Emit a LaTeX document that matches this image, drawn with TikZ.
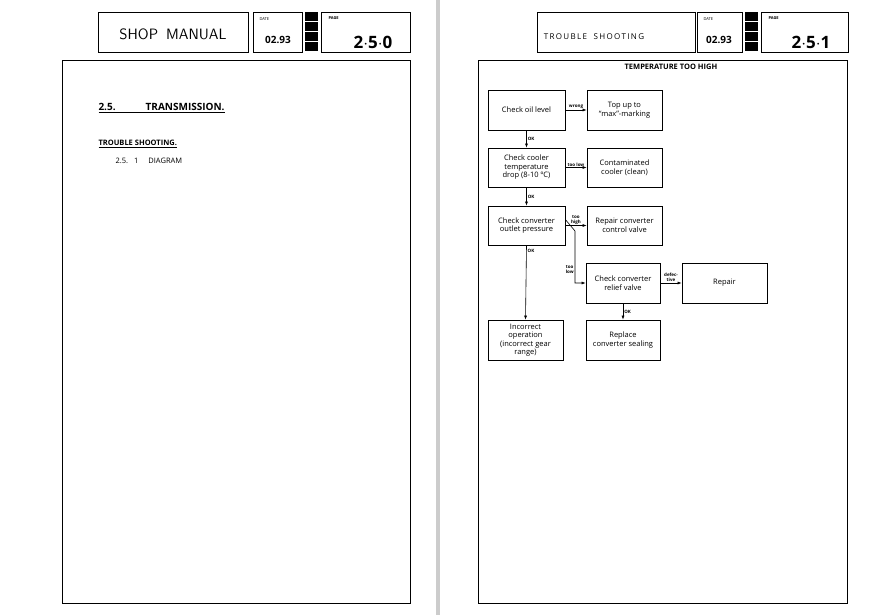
\documentclass[tikz,border=0pt]{standalone}
\usepackage{fontspec}
\setmainfont{Open Sans}
\usetikzlibrary{arrows.meta}
\begin{document}
\begin{tikzpicture}[x=1pt,y=-1pt,
  box/.style={draw,line width=0.7pt,align=center,font=\fontsize{7.5}{8.5}\selectfont},
  arr/.style={-{Latex[length=4pt,width=3pt]},line width=0.6pt},
  lab/.style={font=\fontsize{4.5}{5}\selectfont\bfseries,inner sep=1pt,align=center},
  frame/.style={draw,line width=0.8pt},
  blk/.style={fill=black,draw=white,line width=0.6pt}]
\useasboundingbox (0,0) rectangle (875,615);
\fill[white] (0,0) rectangle (875,615);
\fill[gray!40] (436,0) rectangle (440,615);
% left page
\draw[frame] (62,60) rectangle (410,603);
\node[frame,minimum width=150pt,minimum height=40pt] (sm) at (173,32) {};
\node[font=\fontsize{15}{15}\selectfont] (smt) at (173,34) {\textsf{SHOP\hspace{8pt}MANUAL}};
\node[frame,minimum width=49pt,minimum height=40pt] (d1) at (277.5,32) {};
\node[font=\fontsize{4}{4}\selectfont,anchor=west] (d1l) at (256,19) {DATE};
\node[font=\fontsize{10}{10}\selectfont\bfseries] (d1v) at (278,40) {02.93};
\foreach \i in {0,1,2,3} {\fill[black] (305,12+\i*10) rectangle (318,21+\i*10);}
\node[frame,minimum width=89pt,minimum height=40pt] (p1) at (365.5,32) {};
\node[font=\fontsize{4}{4}\selectfont\bfseries,anchor=west] (p1l) at (325,18) {PAGE};
\node[font=\fontsize{17}{17}\selectfont\bfseries] (p1v) at (373,42) {2$\cdot$5$\cdot$0};
\node[anchor=west,font=\fontsize{10}{10}\selectfont\bfseries] (t1) at (95,108) {\underline{2.5.\hspace{30pt}TRANSMISSION.}};
\node[anchor=west,font=\fontsize{7.5}{8}\selectfont\bfseries] (t2) at (95,144) {\underline{TROUBLE SHOOTING.}};
\node[anchor=west,font=\fontsize{7.5}{8}\selectfont] (t3) at (112,161) {2.5.\hspace{6pt}1\hspace{10pt}DIAGRAM};
% right page
\draw[frame] (478,60) rectangle (847,603);
\node[frame,minimum width=158pt,minimum height=40pt] (tb) at (616,32) {};
\node[font=\fontsize{8}{8}\selectfont] (tbt) at (594,37) {T\,R\,O\,U\,B\,L\,E\;\; S\,H\,O\,O\,T\,I\,N\,G};
\node[frame,minimum width=45pt,minimum height=40pt] (d2) at (719.5,32) {};
\node[font=\fontsize{4}{4}\selectfont,anchor=west] (d2l) at (700,19) {DATE};
\node[font=\fontsize{10}{10}\selectfont\bfseries] (d2v) at (719,40) {02.93};
\foreach \i in {0,1,2,3} {\fill[black] (745,12+\i*10) rectangle (758,21+\i*10);}
\node[frame,minimum width=87pt,minimum height=40pt] (p2) at (804.5,32) {};
\node[font=\fontsize{4}{4}\selectfont\bfseries,anchor=west] (p2l) at (765,18) {PAGE};
\node[font=\fontsize{17}{17}\selectfont\bfseries] (p2v) at (811,42) {2$\cdot$5$\cdot$1};
\node[font=\fontsize{7.5}{8}\selectfont\bfseries] (ttl) at (671,67) {TEMPERATURE TOO HIGH};
% flowchart
\node[box,minimum width=77pt,minimum height=40pt] (a) at (526.5,110) {Check oil level};
\node[box,minimum width=75pt,minimum height=40pt] (b) at (624.5,110) {Top up to\\``max''-marking};
\node[box,minimum width=77pt,minimum height=39pt] (c) at (526.5,167.5) {Check cooler\\temperature\\drop (8-10 ºC)};
\node[box,minimum width=75pt,minimum height=39pt] (d) at (624.5,167.5) {Contaminated\\cooler (clean)};
\node[box,minimum width=77pt,minimum height=39pt] (e) at (526.5,225.5) {Check converter\\outlet pressure};
\node[box,minimum width=75pt,minimum height=39pt] (f) at (624.5,225.5) {Repair converter\\control valve};
\node[box,minimum width=74pt,minimum height=40pt] (g) at (623,283) {Check converter\\relief valve};
\node[box,minimum width=85pt,minimum height=40pt] (h) at (724.5,283) {Repair};
\node[box,minimum width=75pt,minimum height=40pt] (i) at (525.5,340) {Incorrect\\operation\\(incorrect gear\\range)};
\node[box,minimum width=74pt,minimum height=40pt] (j) at (623,340) {Replace\\converter sealing};
\draw[arr] (a.east) -- node[lab,above] {wrong} (b.west);
\draw[arr] (c.east) -- node[lab,above] {too low} (d.west);
\draw[arr] (e.east) -- node[lab,above] {too\\high} (f.west);
\coordinate (k1) at (575,231);
\coordinate (k2) at (575,283);
\draw[arr] ([yshift=6pt]e.east) -- (k1) -- (k2) node[lab,left,pos=0.75] {too\\low} -- (g.west);
\draw[arr] (g.east) -- node[lab,above] {defec-\\tive} (h.west);
\draw[arr] (a.south) -- node[lab,right] {OK} (c.north);
\draw[arr] (c.south) -- node[lab,right] {OK} (e.north);
\draw[arr] (e.south) -- node[lab,right,pos=0.07] {OK} (i.north);
\draw[arr] (g.south) -- node[lab,right] {OK} (j.north);
\end{tikzpicture}
\end{document}
